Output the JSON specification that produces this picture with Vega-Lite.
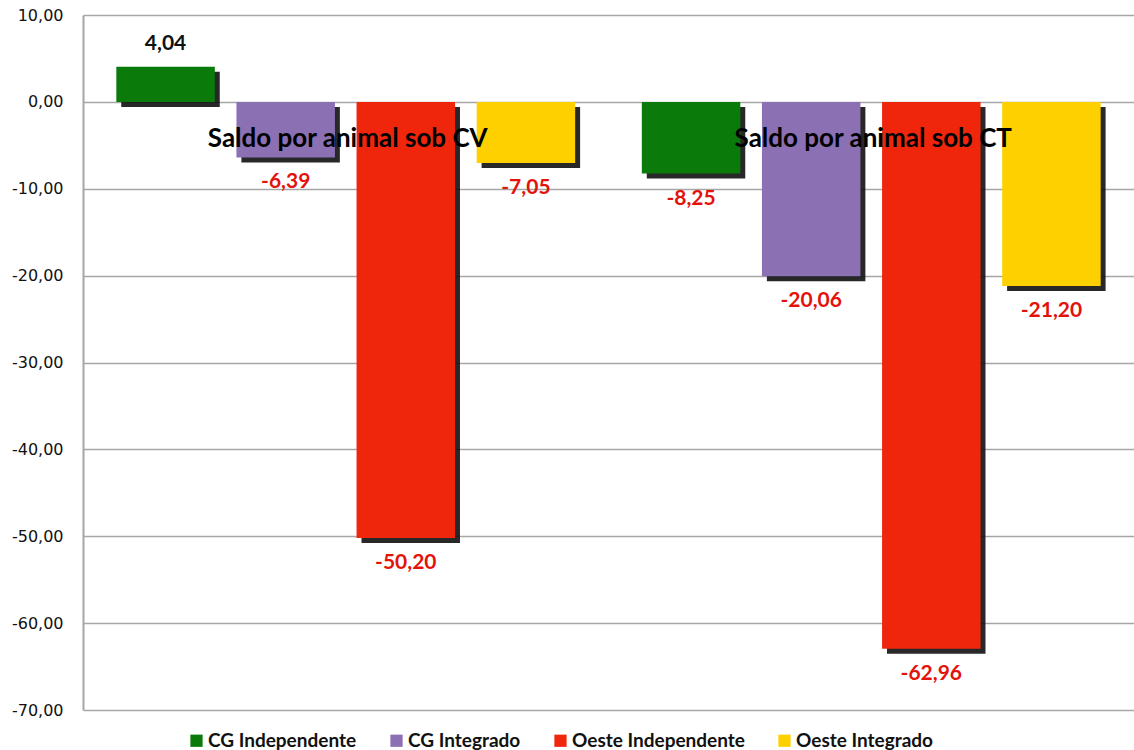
{
  "$schema": "https://vega.github.io/schema/vega-lite/v6.json",
  "autosize": {"type": "none"},
  "width": 1051,
  "height": 695,
  "padding": {"left": 83, "top": 15, "right": 0, "bottom": 40},
  "background": "white",
  "config": {
    "locale": {"number": {"decimal": ",", "thousands": ".", "grouping": [3], "currency": ["R$", ""], "minus": "-"}},
    "view": {"stroke": null},
    "font": "Lato"
  },
  "datasets": {
    "saldo": [
      {"grupo": "CV", "serie": "CG Independente", "valor": 4.04},
      {"grupo": "CV", "serie": "CG Integrado", "valor": -6.39},
      {"grupo": "CV", "serie": "Oeste Independente", "valor": -50.20},
      {"grupo": "CV", "serie": "Oeste Integrado", "valor": -7.05},
      {"grupo": "CT", "serie": "CG Independente", "valor": -8.25},
      {"grupo": "CT", "serie": "CG Integrado", "valor": -20.06},
      {"grupo": "CT", "serie": "Oeste Independente", "valor": -62.96},
      {"grupo": "CT", "serie": "Oeste Integrado", "valor": -21.20}
    ],
    "titulos": [
      {"grupo": "CV", "texto": "Saldo por animal sob CV"},
      {"grupo": "CT", "texto": "Saldo por animal sob CT"}
    ]
  },
  "encoding": {
    "x": {"field": "grupo", "type": "nominal", "sort": ["CV", "CT"], "axis": null,
          "scale": {"paddingInner": 0, "paddingOuter": 0}}
  },
  "layer": [
    {
      "data": {"name": "saldo"},
      "mark": {"type": "bar", "color": "#111111", "yOffset": 5, "opacity": 0.9},
      "encoding": {
        "xOffset": {"field": "serie", "type": "nominal", "sort": ["CG Independente", "CG Integrado", "Oeste Independente", "Oeste Integrado"],
                    "scale": {"paddingInner": 0.18, "paddingOuter": 0.2775, "align": 0.574}},
        "y": {"field": "valor", "type": "quantitative"}
      }
    },
    {
      "layer": [
        {
          "data": {"name": "saldo"},
          "mark": {"type": "bar"},
          "encoding": {
            "xOffset": {"field": "serie", "type": "nominal", "sort": ["CG Independente", "CG Integrado", "Oeste Independente", "Oeste Integrado"],
                        "scale": {"paddingInner": 0.18, "paddingOuter": 0.2775}},
            "y": {"field": "valor", "type": "quantitative",
                  "scale": {"domain": [-70, 10], "nice": false},
                  "axis": {"title": null, "values": [10, 0, -10, -20, -30, -40, -50, -60, -70], "format": ".2f",
                           "labelFont": "DejaVu Sans", "labelFontSize": 16, "labelColor": "#111111",
                           "ticks": false, "labelPadding": 20, "domainColor": "#a6a6a6", "domainWidth": 2,
                           "gridColor": "#a6a6a6", "gridWidth": 1.5, "gridOpacity": 1}},
            "color": {"field": "serie", "type": "nominal",
                      "scale": {"domain": ["CG Independente", "CG Integrado", "Oeste Independente", "Oeste Integrado"],
                                "range": ["#0a7a0a", "#8b70b4", "#f0260c", "#ffd000"]},
                      "legend": {"title": null, "orient": "none", "direction": "horizontal", "legendX": 104, "legendY": 716,
                                 "symbolType": "square", "symbolSize": 150, "symbolStrokeWidth": 0, "symbolOpacity": 1,
                                 "labelFont": "Lato", "labelFontWeight": "bold", "labelFontSize": 19, "labelColor": "#111111",
                                 "labelLimit": 0, "labelOffset": 2, "columnPadding": 30}}
          }
        },
        {
          "data": {"name": "saldo"},
          "transform": [{"filter": "datum.valor >= 0"}],
          "mark": {"type": "text", "baseline": "bottom", "dy": -13, "fontWeight": "bold", "fontSize": 21, "font": "Lato", "color": "#111111"},
          "encoding": {
            "xOffset": {"field": "serie", "type": "nominal", "sort": ["CG Independente", "CG Integrado", "Oeste Independente", "Oeste Integrado"]},
            "y": {"field": "valor", "type": "quantitative"},
            "text": {"field": "valor", "type": "quantitative", "format": ".2f"}
          }
        },
        {
          "data": {"name": "saldo"},
          "transform": [{"filter": "datum.valor < 0"}],
          "mark": {"type": "text", "baseline": "top", "dy": 14, "fontWeight": "bold", "fontSize": 21, "font": "Lato", "color": "#e3120b"},
          "encoding": {
            "xOffset": {"field": "serie", "type": "nominal", "sort": ["CG Independente", "CG Integrado", "Oeste Independente", "Oeste Integrado"]},
            "y": {"field": "valor", "type": "quantitative"},
            "text": {"field": "valor", "type": "quantitative", "format": ".2f"}
          }
        }
      ]
    },
    {
      "data": {"name": "titulos"},
      "mark": {"type": "text", "baseline": "middle", "fontWeight": "bold", "fontSize": 26, "font": "Lato", "color": "#000000", "dx": 2},
      "encoding": {
        "y": {"datum": -4.3, "type": "quantitative"},
        "text": {"field": "texto"}
      }
    }
  ],
  "resolve": {"scale": {"xOffset": "independent"}}
}
